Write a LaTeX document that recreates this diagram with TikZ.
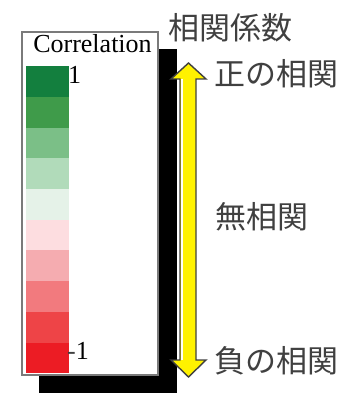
\documentclass[tikz,border=0pt]{standalone}
\usepackage{fontspec}
\setmainfont{Liberation Serif}
\newfontfamily\jpfont{Noto Sans CJK JP}
\definecolor{c1}{HTML}{137F3E}
\definecolor{c2}{HTML}{3F9B4A}
\definecolor{c3}{HTML}{7BBF87}
\definecolor{c4}{HTML}{B1DBBA}
\definecolor{c5}{HTML}{E5F2E8}
\definecolor{c6}{HTML}{FDDDE0}
\definecolor{c7}{HTML}{F5ACB0}
\definecolor{c8}{HTML}{F27A7E}
\definecolor{c9}{HTML}{EE4447}
\definecolor{c10}{HTML}{EC1C24}
\definecolor{jpgray}{HTML}{404040}
\definecolor{boxgray}{HTML}{7A7A7A}
\begin{document}
\begin{tikzpicture}[x=1pt,y=-1pt,
  jplabel/.style={font=\jpfont\fontsize{31}{31}\selectfont, text=jpgray, inner sep=0pt, anchor=center},
  legtext/.style={font=\fontsize{26}{26}\selectfont, inner sep=0pt, anchor=base west},
  swatch/.style={inner sep=0pt, minimum width=43pt, minimum height=30.7pt, anchor=north west}]
\useasboundingbox (0,0) rectangle (360,398);
% shadow
\fill[black] (39,49) rectangle (176.5,393);
% legend box
\fill[white] (22,32) rectangle (158,375);
\draw[boxgray, line width=1.1pt] (22,32) rectangle (158,375);
\node[font=\fontsize{26}{26}\selectfont, inner sep=0pt, anchor=base] (title) at (92.5,53) {Correlation};
% swatches
\foreach \i in {1,...,10} {
  \node[swatch, fill=c\i] (s\i) at (26,{66+(\i-1)*30.7}) {};
}
\node[legtext] (top) at (68,84) {1};
\node[legtext, text=black] (bot) at (67,359.5) {\textcolor{jpgray}{-}1};
% double arrow
\filldraw[fill=yellow, draw=jpgray, line width=1.4pt, line join=miter]
  (188.5,63) -- (206,79) -- (196,79) -- (196,360) -- (206,360) -- (188.5,377)
  -- (171,360) -- (180,360) -- (180,79) -- (171,79) -- cycle;
\fill[white] (180.8,79.5) rectangle (183,359.5);
% labels
\node[jplabel] (head) at (230,27.5) {相関係数};
\node[jplabel] (pos) at (276,74) {正の相関};
\node[jplabel] (none) at (261.5,217) {無相関};
\node[jplabel] (neg) at (276,361) {負の相関};
\end{tikzpicture}
\end{document}
